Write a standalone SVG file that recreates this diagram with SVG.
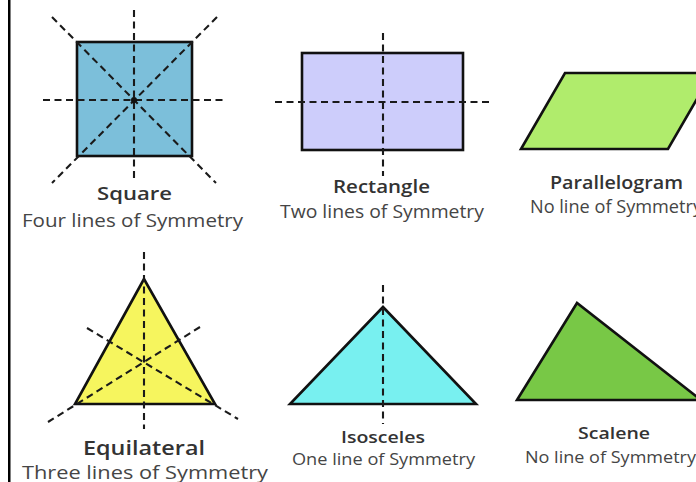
<svg xmlns="http://www.w3.org/2000/svg" width="696" height="482" viewBox="0 0 696 482">
<style>
.shape{stroke:#111;stroke-width:2.6;stroke-linejoin:miter}
.sym{stroke:#1a1a1a;stroke-width:2.1;stroke-dasharray:7 4.5;fill:none}
.title{font-family:"Open Sans","Noto Sans","DejaVu Sans",sans-serif;font-weight:600;fill:#333;text-anchor:middle}
.sub{font-family:"Open Sans","Noto Sans","DejaVu Sans",sans-serif;fill:#454545;text-anchor:middle}
</style>
<rect x="0" y="0" width="696" height="482" fill="#fff"/>
<rect x="8" y="0" width="2.5" height="482" fill="#000"/>

<g id="square">
  <rect class="shape" x="77" y="42" width="115" height="114" fill="#7cbfda"/>
  <line class="sym" x1="134" y1="10" x2="134" y2="178"/>
  <line class="sym" x1="43" y1="100" x2="227" y2="100"/>
  <line class="sym" x1="52" y1="17" x2="216" y2="183"/>
  <line class="sym" x1="217" y1="17" x2="52" y2="183"/>
  <circle cx="134" cy="100" r="3" fill="#111"/>
  <text class="title" x="134.5" y="200" font-size="18.5" textLength="75" lengthAdjust="spacingAndGlyphs">Square</text>
  <text class="sub" x="132.5" y="227" font-size="19" textLength="221" lengthAdjust="spacingAndGlyphs">Four lines of Symmetry</text>
</g>

<g id="rectangle">
  <rect class="shape" x="302" y="53" width="161" height="97" fill="#cdcdfb"/>
  <line class="sym" x1="383" y1="33" x2="383" y2="176"/>
  <line class="sym" x1="275" y1="102" x2="493" y2="102"/>
  <text class="title" x="381.5" y="193" font-size="18" textLength="97" lengthAdjust="spacingAndGlyphs">Rectangle</text>
  <text class="sub" x="382" y="218" font-size="18" textLength="204" lengthAdjust="spacingAndGlyphs">Two lines of Symmetry</text>
</g>

<g id="parallelogram">
  <polygon class="shape" points="565,73 712,73 668,149 521,149" fill="#b0ec6c"/>
  <text class="title" x="616.5" y="189" font-size="18" textLength="133" lengthAdjust="spacingAndGlyphs">Parallelogram</text>
  <text class="sub" x="530" y="213" font-size="17.5" style="text-anchor:start" textLength="172" lengthAdjust="spacingAndGlyphs">No line of Symmetry</text>
</g>

<g id="equilateral">
  <polygon class="shape" points="144,279 75,404 215,404" fill="#f6f55e"/>
  <line class="sym" x1="144" y1="252" x2="144" y2="429"/>
  <line class="sym" x1="87" y1="328" x2="238" y2="419"/>
  <line class="sym" x1="200" y1="327" x2="48" y2="422"/>
  <text class="title" x="144" y="455" font-size="19.5" textLength="122" lengthAdjust="spacingAndGlyphs">Equilateral</text>
  <text class="sub" x="145" y="479" font-size="17.5" textLength="246" lengthAdjust="spacingAndGlyphs">Three lines of Symmetry</text>
</g>

<g id="isosceles">
  <polygon class="shape" points="383,307 290,404 476,404" fill="#78f0f0"/>
  <line class="sym" x1="383" y1="285" x2="383" y2="424"/>
  <text class="title" x="383" y="443" font-size="17" textLength="84" lengthAdjust="spacingAndGlyphs">Isosceles</text>
  <text class="sub" x="383.5" y="465" font-size="17" textLength="183" lengthAdjust="spacingAndGlyphs">One line of Symmetry</text>
</g>

<g id="scalene">
  <polygon class="shape" points="577,303 517,400 701,400" fill="#78c846"/>
  <text class="title" x="614" y="439" font-size="17" textLength="72" lengthAdjust="spacingAndGlyphs">Scalene</text>
  <text class="sub" x="525" y="463" font-size="17" style="text-anchor:start" textLength="171" lengthAdjust="spacingAndGlyphs">No line of Symmetry</text>
</g>

<g id="connectors"></g>
</svg>
